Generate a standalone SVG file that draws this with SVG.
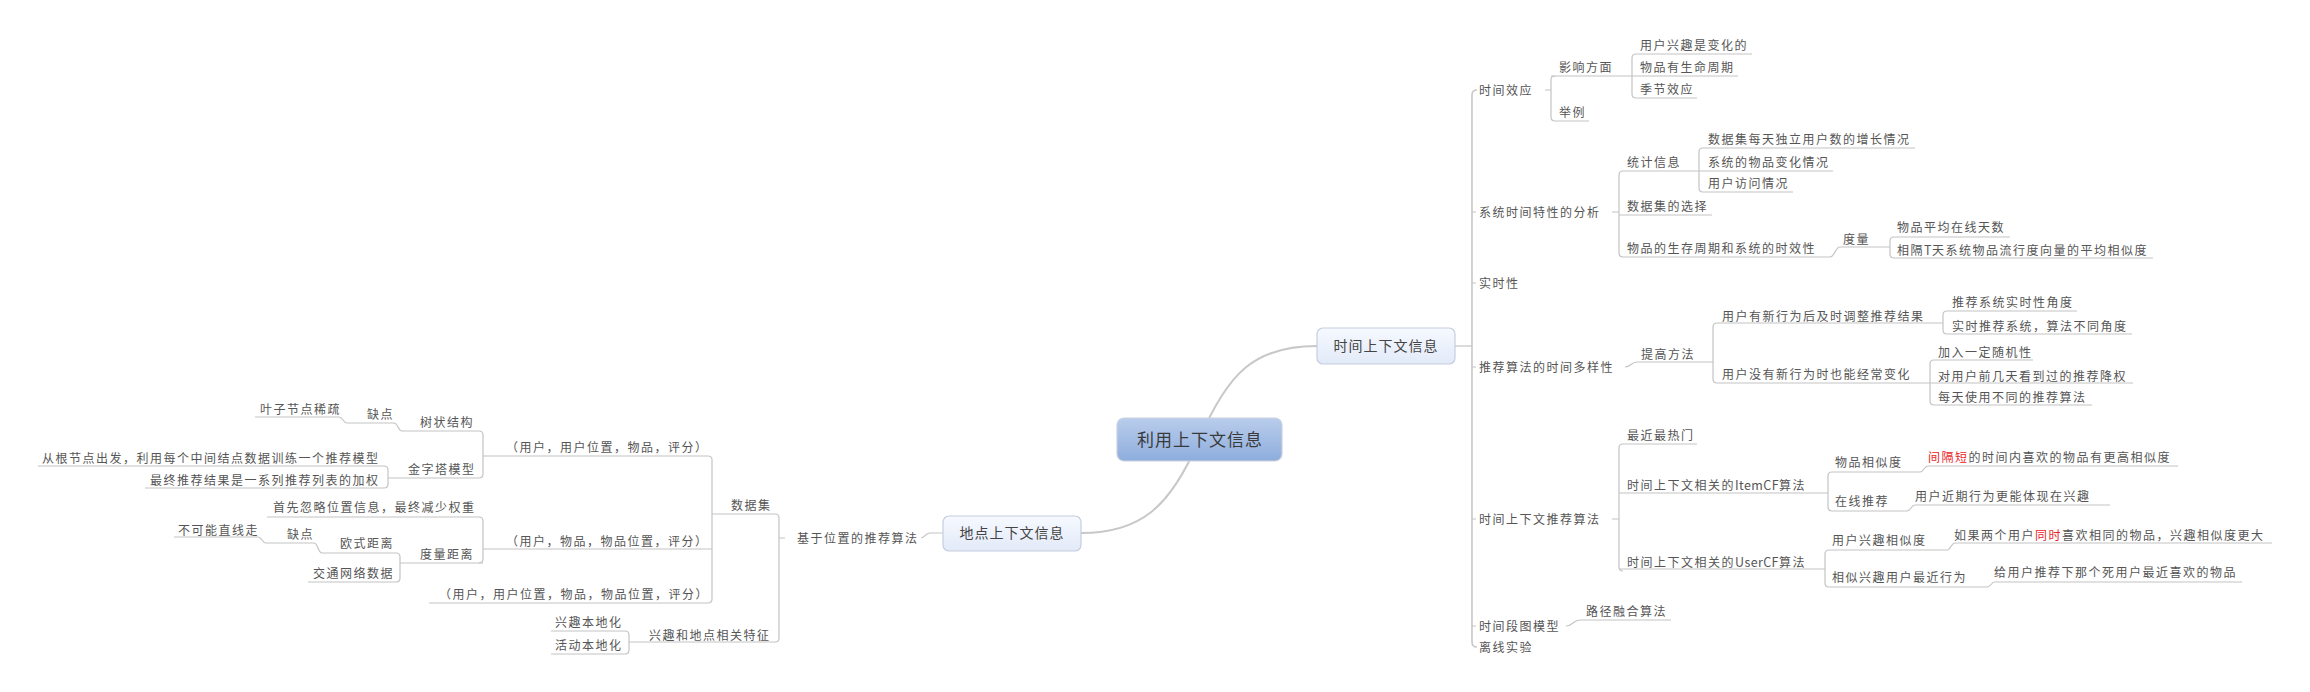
<svg xmlns="http://www.w3.org/2000/svg" width="2310" height="692" viewBox="0 0 2310 692">
<defs>
<linearGradient id="gRoot" x1="0" y1="0" x2="0" y2="1">
<stop offset="0" stop-color="#b9cdec"/><stop offset="1" stop-color="#8eaddc"/>
</linearGradient>
<linearGradient id="gMain" x1="0" y1="0" x2="0" y2="1">
<stop offset="0" stop-color="#f6f9ff"/><stop offset="1" stop-color="#e2eaf8"/>
</linearGradient>
</defs>
<style>
.t{font-family:"Noto Sans CJK SC","Noto Sans",sans-serif;font-size:12px;fill:#555;letter-spacing:1.5px}
.lat{letter-spacing:0.4px;font-size:12.5px}
.r{fill:#e8262a}
.ul{stroke:#c4c4c4;stroke-width:1.2;fill:none}
.cn{stroke:#c4c4c4;stroke-width:1.2;fill:none}
.big{stroke:#c8c8c8;stroke-width:2;fill:none}
.box{fill:url(#gMain);stroke:#c5cede;stroke-width:1.2}
.root{fill:url(#gRoot);stroke:#c9d1e0;stroke-width:1.2}
.mt{font-family:"Noto Sans CJK SC","Noto Sans",sans-serif;font-size:14px;fill:#444;letter-spacing:1px;text-anchor:middle}
.rt{font-family:"Noto Sans CJK SC","Noto Sans",sans-serif;font-size:17px;fill:#3a3a3a;letter-spacing:1px;text-anchor:middle}
</style>
<rect width="2310" height="692" fill="#fff"/>
<g id="connectors">
<path class="big" d="M1199,440 C1228,372 1255,346 1317,346"/>
<path class="big" d="M1199,440 C1170,508 1140,533 1081,533"/>
<path class="cn" d="M1455,346 L1472,346"/>
<path class="big" d="M1477,90 Q1472,90 1472,95 L1472,642 Q1472,647 1477,647" style="stroke-width:1.6"/>
<path class="cn" d="M1472,212 L1476,212 M1472,283 L1476,283 M1472,367 L1476,367 M1472,519 L1476,519 M1472,626 L1476,626"/>
<path class="cn" d="M1545,90 L1551,90 M1555,76 Q1551,76 1551,80 L1551,117 Q1551,121 1555,121"/>
<path class="cn" d="M1636,54 Q1632,54 1632,58 L1632,94 Q1632,98 1636,98"/>
<path class="cn" d="M1612,212 L1619,212 M1623,171 Q1619,171 1619,175 L1619,253 Q1619,257 1623,257"/>
<path class="cn" d="M1703,148 Q1699,148 1699,152 L1699,188 Q1699,192 1703,192"/>
<path class="cn" d="M1830,257 C1835,257 1835,247 1840,247"/>
<path class="cn" d="M1894,237 Q1890,237 1890,241 L1890,254 Q1890,258 1894,258"/>
<path class="cn" d="M1625,367 C1631,367 1631,362 1637,362"/>
<path class="cn" d="M1717,323 Q1713,323 1713,327 L1713,379 Q1713,383 1717,383"/>
<path class="cn" d="M1947,311 Q1943,311 1943,315 L1943,330 Q1943,334 1947,334"/>
<path class="cn" d="M1934,360 Q1930,360 1930,364 L1930,401 Q1930,405 1934,405"/>
<path class="cn" d="M1612,519 L1619,519 M1623,444 Q1619,444 1619,448 L1619,567 Q1619,571 1623,571"/>
<path class="cn" d="M1832,472 Q1828,472 1828,476 L1828,507 Q1828,511 1832,511"/>
<path class="cn" d="M1920,472 C1924,472 1924,466 1928,466"/>
<path class="cn" d="M1907,511 C1911,511 1911,505 1915,505"/>
<path class="cn" d="M1829,550 Q1825,550 1825,554 L1825,583 Q1825,587 1829,587"/>
<path class="cn" d="M1947,550 C1951,550 1951,543 1955,543"/>
<path class="cn" d="M1987,587 C1991,587 1991,582 1995,582"/>
<path class="cn" d="M1566,626 C1573,626 1573,620 1580,620"/>
<path class="cn" d="M943,533 L930,533 C925,533 925,538 921,538"/>
<path class="cn" d="M785,538 L779,538 M775,514 Q779,514 779,518 L779,638 Q779,642 775,642"/>
<path class="cn" d="M708,456 Q712,456 712,460 L712,599 Q712,603 708,603"/>
<path class="cn" d="M479,431 Q483,431 483,435 L483,474 Q483,478 479,478"/>
<path class="cn" d="M402,431 C398,431 398,423 394,423"/>
<path class="cn" d="M347,423 C343,423 343,417 339,417"/>
<path class="cn" d="M384,466 Q388,466 388,470 L388,484 Q388,488 384,488"/>
<path class="cn" d="M479,517 Q483,517 483,521 L483,559 Q483,563 479,563"/>
<path class="cn" d="M396,553 Q400,553 400,557 L400,578 Q400,582 396,582"/>
<path class="cn" d="M322,553 C318,553 318,543 314,543"/>
<path class="cn" d="M266,543 C262,543 262,537 258,537"/>
<path class="cn" d="M625,631 Q629,631 629,635 L629,650 Q629,654 625,654"/>
</g>
<g id="root"><rect class="root" x="1117" y="418" width="165" height="43" rx="7"/><text class="rt" x="1200" y="446">利用上下文信息</text></g>
<g id="time-context"><rect class="box" x="1317" y="328" width="138" height="36" rx="6"/><text class="mt" x="1386" y="351">时间上下文信息</text></g>
<g id="place-context"><rect class="box" x="943" y="516" width="138" height="35" rx="6"/><text class="mt" x="1012" y="538">地点上下文信息</text></g>

<g id="n-time-effect"><text class="t" x="1479" y="94.5">时间效应</text></g>
<g id="n-influence"><text class="t" x="1559" y="72">影响方面</text><path class="ul" d="M1551,76 L1632,76"/></g>
<g id="n-example"><text class="t" x="1559" y="117">举例</text><path class="ul" d="M1555,121 L1589,121"/></g>
<g id="n-interest-change"><text class="t" x="1640" y="50">用户兴趣是变化的</text><path class="ul" d="M1636,54 L1752,54"/></g>
<g id="n-lifecycle"><text class="t" x="1640" y="72">物品有生命周期</text><path class="ul" d="M1632,76 L1738,76"/></g>
<g id="n-season"><text class="t" x="1640" y="94">季节效应</text><path class="ul" d="M1636,98 L1697,98"/></g>

<g id="n-sys-analysis"><text class="t" x="1479" y="216.5">系统时间特性的分析</text></g>
<g id="n-stats"><text class="t" x="1627" y="167">统计信息</text><path class="ul" d="M1623,171 L1699,171"/></g>
<g id="n-dataset-choice"><text class="t" x="1627" y="211">数据集的选择</text><path class="ul" d="M1619,215 L1712,215"/></g>
<g id="n-item-life"><text class="t" x="1627" y="252.5">物品的生存周期和系统的时效性</text><path class="ul" d="M1623,257 L1830,257"/></g>
<g id="n-daily-users"><text class="t" x="1708" y="144">数据集每天独立用户数的增长情况</text><path class="ul" d="M1703,148 L1915,148"/></g>
<g id="n-item-change"><text class="t" x="1708" y="167">系统的物品变化情况</text><path class="ul" d="M1699,171 L1833,171"/></g>
<g id="n-user-visit"><text class="t" x="1708" y="188">用户访问情况</text><path class="ul" d="M1703,192 L1793,192"/></g>
<g id="n-measure"><text class="t" x="1843" y="244">度量</text><path class="ul" d="M1840,247 L1890,247"/></g>
<g id="n-avg-online"><text class="t" x="1897" y="232">物品平均在线天数</text><path class="ul" d="M1894,237 L2010,237"/></g>
<g id="n-sim-t"><text class="t" x="1897" y="255">相隔<tspan class="lat">T</tspan>天系统物品流行度向量的平均相似度</text><path class="ul" d="M1894,258 L2153,258"/></g>

<g id="n-realtime"><text class="t" x="1479" y="287.5">实时性</text></g>

<g id="n-diversity"><text class="t" x="1479" y="371.5">推荐算法的时间多样性</text></g>
<g id="n-improve"><text class="t" x="1641" y="358.5">提高方法</text><path class="ul" d="M1637,362 L1713,362"/></g>
<g id="n-new-behavior"><text class="t" x="1722" y="321">用户有新行为后及时调整推荐结果</text><path class="ul" d="M1717,323 L1943,323"/></g>
<g id="n-no-behavior"><text class="t" x="1722" y="379">用户没有新行为时也能经常变化</text><path class="ul" d="M1717,383 L1930,383"/></g>
<g id="n-rt-angle"><text class="t" x="1952" y="307">推荐系统实时性角度</text><path class="ul" d="M1947,311 L2077,311"/></g>
<g id="n-rt-system"><text class="t" x="1952" y="331">实时推荐系统，算法不同角度</text><path class="ul" d="M1947,334 L2132,334"/></g>
<g id="n-random"><text class="t" x="1938" y="357">加入一定随机性</text><path class="ul" d="M1934,360 L2033,360"/></g>
<g id="n-downweight"><text class="t" x="1938" y="381">对用户前几天看到过的推荐降权</text><path class="ul" d="M1930,383 L2133,383"/></g>
<g id="n-daily-algo"><text class="t" x="1938" y="402">每天使用不同的推荐算法</text><path class="ul" d="M1934,405 L2092,405"/></g>

<g id="n-ctx-algo"><text class="t" x="1479" y="523.5">时间上下文推荐算法</text></g>
<g id="n-recent-hot"><text class="t" x="1627" y="440">最近最热门</text><path class="ul" d="M1623,444 L1697,444"/></g>
<g id="n-itemcf"><text class="t" x="1627" y="490">时间上下文相关的<tspan class="lat">ItemCF</tspan>算法</text><path class="ul" d="M1619,493 L1828,493"/></g>
<g id="n-usercf"><text class="t" x="1627" y="567">时间上下文相关的<tspan class="lat">UserCF</tspan>算法</text><path class="ul" d="M1619,569 L1825,569"/></g>
<g id="n-item-sim"><text class="t" x="1835" y="467">物品相似度</text><path class="ul" d="M1832,472 L1920,472"/></g>
<g id="n-online-rec"><text class="t" x="1835" y="506">在线推荐</text><path class="ul" d="M1832,511 L1907,511"/></g>
<g id="n-short-interval"><text class="t" x="1928" y="462"><tspan class="r">间隔短</tspan>的时间内喜欢的物品有更高相似度</text><path class="ul" d="M1928,466 L2178,466"/></g>
<g id="n-recent-behavior"><text class="t" x="1915" y="501">用户近期行为更能体现在兴趣</text><path class="ul" d="M1915,505 L2110,505"/></g>
<g id="n-user-sim"><text class="t" x="1832" y="545">用户兴趣相似度</text><path class="ul" d="M1829,550 L1947,550"/></g>
<g id="n-sim-recent"><text class="t" x="1832" y="582">相似兴趣用户最近行为</text><path class="ul" d="M1829,587 L1987,587"/></g>
<g id="n-same-time"><text class="t" x="1954" y="540">如果两个用户<tspan class="r">同时</tspan>喜欢相同的物品，兴趣相似度更大</text><path class="ul" d="M1955,543 L2272,543"/></g>
<g id="n-recommend-recent"><text class="t" x="1994" y="577">给用户推荐下那个死用户最近喜欢的物品</text><path class="ul" d="M1995,582 L2242,582"/></g>

<g id="n-segment-graph"><text class="t" x="1479" y="630.5">时间段图模型</text></g>
<g id="n-path-fusion"><text class="t" x="1586" y="616">路径融合算法</text><path class="ul" d="M1580,620 L1671,620"/></g>
<g id="n-offline"><text class="t" x="1479" y="651.5">离线实验</text></g>

<g id="n-location-algo"><text class="t" x="797" y="542.5">基于位置的推荐算法</text></g>
<g id="n-dataset"><text class="t" x="731" y="510">数据集</text><path class="ul" d="M712,514 L775,514"/></g>
<g id="n-interest-place"><text class="t" x="649" y="640">兴趣和地点相关特征</text><path class="ul" d="M629,642 L775,642"/></g>
<g id="n-ds1"><text class="t" x="506" y="452">（用户，用户位置，物品，评分）</text><path class="ul" d="M483,456 L708,456"/></g>
<g id="n-ds2"><text class="t" x="506" y="546">（用户，物品，物品位置，评分）</text><path class="ul" d="M483,549 L712,549"/></g>
<g id="n-ds3"><text class="t" x="439" y="599">（用户，用户位置，物品，物品位置，评分）</text><path class="ul" d="M429,603 L708,603"/></g>
<g id="n-tree"><text class="t" x="420" y="427">树状结构</text><path class="ul" d="M402,431 L479,431"/></g>
<g id="n-tree-cons"><text class="t" x="367" y="419">缺点</text><path class="ul" d="M347,423 L394,423"/></g>
<g id="n-sparse"><text class="t" x="260" y="414">叶子节点稀疏</text><path class="ul" d="M255,417 L339,417"/></g>
<g id="n-pyramid"><text class="t" x="408" y="474">金字塔模型</text><path class="ul" d="M388,478 L479,478"/></g>
<g id="n-from-root"><text class="t" x="42" y="463">从根节点出发，利用每个中间结点数据训练一个推荐模型</text><path class="ul" d="M38,466 L384,466"/></g>
<g id="n-weighted"><text class="t" x="150" y="485">最终推荐结果是一系列推荐列表的加权</text><path class="ul" d="M145,488 L384,488"/></g>
<g id="n-ignore-pos"><text class="t" x="273" y="512">首先忽略位置信息，最终减少权重</text><path class="ul" d="M267,517 L479,517"/></g>
<g id="n-distance"><text class="t" x="420" y="559">度量距离</text><path class="ul" d="M400,563 L483,563"/></g>
<g id="n-euclid"><text class="t" x="340" y="548">欧式距离</text><path class="ul" d="M322,553 L396,553"/></g>
<g id="n-traffic"><text class="t" x="313" y="578">交通网络数据</text><path class="ul" d="M308,582 L396,582"/></g>
<g id="n-euclid-cons"><text class="t" x="287" y="539">缺点</text><path class="ul" d="M266,543 L314,543"/></g>
<g id="n-no-straight"><text class="t" x="178" y="534.5">不可能直线走</text><path class="ul" d="M174,537 L258,537"/></g>
<g id="n-interest-local"><text class="t" x="555" y="627">兴趣本地化</text><path class="ul" d="M551,631 L625,631"/></g>
<g id="n-activity-local"><text class="t" x="555" y="650">活动本地化</text><path class="ul" d="M551,654 L625,654"/></g>
</svg>
